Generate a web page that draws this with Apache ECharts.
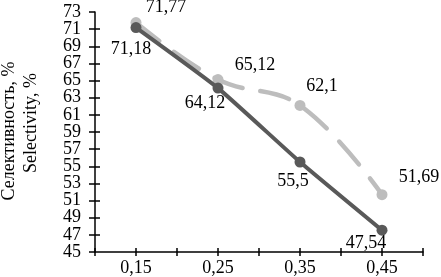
<!DOCTYPE html>
<html>
<head>
<meta charset="utf-8">
<script src="https://cdn.jsdelivr.net/npm/echarts@6/dist/echarts.min.js"></script>
<style>
html,body{margin:0;padding:0;background:#fff;}
#c{width:441px;height:277px;}
</style>
</head>
<body>
<div id="c"></div>
<script>
// Data
var xValues = [0.15, 0.25, 0.35, 0.45];
var seriesDark = [71.18, 64.12, 55.5, 47.54];
var seriesLight = [71.77, 65.12, 62.1, 51.69];
var xTickLabels = ['0,15', '0,25', '0,35', '0,45'];
var yMin = 45, yMax = 73, yStep = 2;
var yTitleRu = 'Селективность, %';
var yTitleEn = 'Selectivity, %';

var darkOffsets = [[-5, 22], [-13, 15], [-7, 19], [-16, 13]];
var lightOffsets = [[30, -15], [37, -14], [22, -19], [37, -17]];

var FONT = '"Liberation Serif", "Times New Roman", serif';

function fmt(v) { return String(v).replace('.', ','); }

function makeData(vals, offs) {
  return vals.map(function (v, i) {
    return {
      value: [xValues[i], v],
      label: { offset: offs[i] }
    };
  });
}

var chart = echarts.init(document.getElementById('c'), null, { renderer: 'canvas' });

var xLabelFmt = function (v) {
  var r = Math.round(v * 100);
  for (var i = 0; i < xValues.length; i++) {
    if (Math.round(xValues[i] * 100) === r) return xTickLabels[i];
  }
  return '';
};

var axisLineStyle = { color: '#000', width: 1.5 };
var yLabelStyle = { fontFamily: FONT, fontSize: 18, color: '#000', margin: 14 };

chart.setOption({
  animation: false,
  grid: { left: 95, right: 18, top: 12, bottom: 25 },
  xAxis: [
    {
      type: 'value', min: 0.1, max: 0.5, interval: 0.05,
      axisLine: { show: true, onZero: false, lineStyle: axisLineStyle },
      axisTick: { show: true, inside: false, length: 4, lineStyle: axisLineStyle },
      axisLabel: { formatter: xLabelFmt, fontFamily: FONT, fontSize: 18, color: '#000', margin: 7, showMinLabel: true, showMaxLabel: true, hideOverlap: false },
      splitLine: { show: false }
    },
    {
      type: 'value', min: 0.1, max: 0.5, interval: 0.05, position: 'bottom',
      axisLine: { show: false, onZero: false },
      axisTick: { show: true, inside: true, length: 4, lineStyle: axisLineStyle },
      axisLabel: { show: false },
      splitLine: { show: false }
    }
  ],
  yAxis: [
    {
      type: 'value', min: yMin, max: yMax, interval: yStep,
      axisLine: { show: true, onZero: false, lineStyle: axisLineStyle },
      axisTick: { show: true, inside: false, length: 6, lineStyle: axisLineStyle },
      axisLabel: Object.assign({
        formatter: function (v) { return (v === yMin || v === yMax) ? String(v) : ''; },
        showMinLabel: true, showMaxLabel: true
      }, yLabelStyle),
      splitLine: { show: false }
    },
    {
      type: 'value', min: yMin, max: yMax, interval: yStep, position: 'left',
      axisLine: { show: false, onZero: false },
      axisTick: { show: true, inside: true, length: 5, lineStyle: axisLineStyle },
      axisLabel: Object.assign({
        formatter: function (v) { return (v === yMin || v === yMax) ? '' : String(v); },
        showMinLabel: false, showMaxLabel: false
      }, yLabelStyle),
      splitLine: { show: false }
    }
  ],
  graphic: [
    {
      type: 'text', x: 9, y: 131, rotation: Math.PI / 2,
      style: { text: yTitleRu, font: '18px ' + FONT, fill: '#000', align: 'center', verticalAlign: 'middle' }
    },
    {
      type: 'text', x: 31, y: 123, rotation: Math.PI / 2,
      style: { text: yTitleEn, font: '18px ' + FONT, fill: '#000', align: 'center', verticalAlign: 'middle' }
    }
  ],
  series: [
    {
      type: 'line', xAxisIndex: 0, yAxisIndex: 0,
      data: makeData(seriesLight, lightOffsets),
      smooth: 0.4,
      symbol: 'circle', symbolSize: 11,
      itemStyle: { color: '#bdbdbd' },
      lineStyle: { color: '#bdbdbd', width: 4.5, type: [30, 18], cap: 'round' },
      label: {
        show: true, position: 'inside',
        formatter: function (p) { return fmt(p.value[1]); },
        fontFamily: FONT, fontSize: 18, color: '#000'
      },
      z: 2
    },
    {
      type: 'line', xAxisIndex: 0, yAxisIndex: 0,
      data: makeData(seriesDark, darkOffsets),
      smooth: 0.15,
      symbol: 'circle', symbolSize: 11,
      itemStyle: { color: '#595959' },
      lineStyle: { color: '#595959', width: 4 },
      label: {
        show: true, position: 'inside',
        formatter: function (p) { return fmt(p.value[1]); },
        fontFamily: FONT, fontSize: 18, color: '#000'
      },
      z: 3
    }
  ]
});
</script>
</body>
</html>
